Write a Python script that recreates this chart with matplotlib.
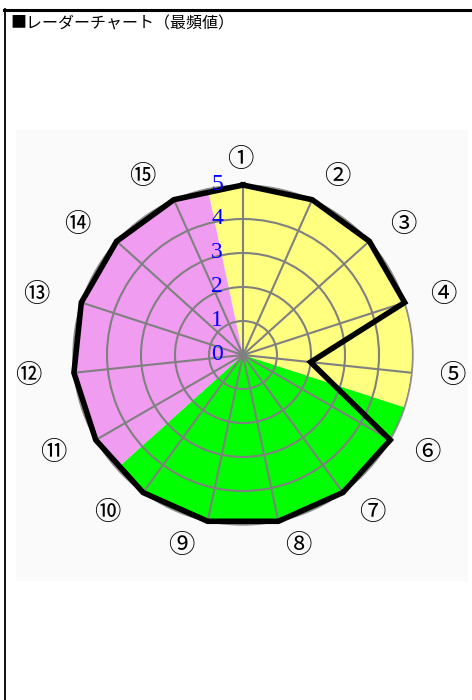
# radar chart (mode values), 15 items in three colour groups
import matplotlib.pyplot as plt
import numpy as np
from matplotlib.lines import Line2D
from matplotlib.patches import Rectangle

plt.rcParams['font.family'] = ['Noto Sans CJK JP', 'DejaVu Sans']

# data
item_labels = ['①', '②', '③', '④', '⑤', '⑥', '⑦', '⑧', '⑨', '⑩',
               '⑪', '⑫', '⑬', '⑭', '⑮']
mode_values = [5, 5, 5, 5, 2, 5, 5, 5, 5, 5, 5, 5, 5, 5, 5]
group_start = [0, 5, 10]   # first item of each colour group
group_size = [5, 5, 5]
group_colors = ['#ffff80', '#00ff00', '#f09cf0']
r_ticks = [0, 1, 2, 3, 4, 5]
title = '■レーダーチャート（最頻値）'

n = len(item_labels)
step = 2 * np.pi / n
angles = np.arange(n) * step
r_max = 5

fig = plt.figure(figsize=(4.72, 7.0), dpi=100)

# page frame and light panel behind the chart
fig.add_artist(Line2D([4 / 472, 1], [690 / 700, 690 / 700], color='black', lw=2.2))
fig.add_artist(Line2D([5 / 472, 5 / 472], [0, 691 / 700], color='black', lw=1.3))
fig.add_artist(Rectangle((16 / 472, 119 / 700), 452 / 472, 451 / 700,
                         facecolor='#fafafa', edgecolor='none', zorder=-1))
fig.text(10 / 472, 676 / 700, title, fontsize=11.5, va='center', ha='left')

ax = fig.add_axes([73 / 472, 175 / 700, 340 / 472, 340 / 700], projection='polar')
ax.patch.set_alpha(0)
ax.set_theta_zero_location('N')
ax.set_theta_direction(-1)

# coloured sectors, one per group of items
for start, size, col in zip(group_start, group_size, group_colors):
    centre = (start + (size - 1) / 2) * step
    ax.bar(centre, r_max, width=size * step, bottom=0, color=col,
           edgecolor='none', zorder=1)

# data polygon
vals = mode_values + mode_values[:1]
ang = np.append(angles, angles[0])
ax.plot(ang, vals, color='black', lw=4, solid_joinstyle='miter', zorder=3,
        clip_on=False)

ax.set_ylim(0, r_max)
ax.set_yticks(r_ticks[1:], labels=[])
ax.set_xticks(angles, labels=[])
ax.set_axisbelow('line')
ax.grid(color='#808080', lw=1.5)
ax.spines['polar'].set_color('#909090')
ax.spines['polar'].set_linewidth(1.0)
ax.tick_params(length=0)

# radial scale numbers in a vertical column left of the centre
x_col = -0.76
for r in r_ticks:
    th = np.arctan2(x_col, r)
    ax.text(th, np.hypot(x_col, r), str(r), color='blue', fontsize=17,
            family='Liberation Serif', ha='center', va='center', zorder=4)

# item labels around the rim
for a, lab in zip(angles, item_labels):
    s = np.sin(a)
    side = 0 if abs(s) < 1e-6 else np.sign(s)
    x = 5.74 * s + 0.53 * side - 0.09
    y = 5.74 * np.cos(a)
    ax.text(np.arctan2(x, y), np.hypot(x, y), lab, fontsize=19,
            ha='center', va='center', clip_on=False)

fig.savefig('out.png', dpi=100)
